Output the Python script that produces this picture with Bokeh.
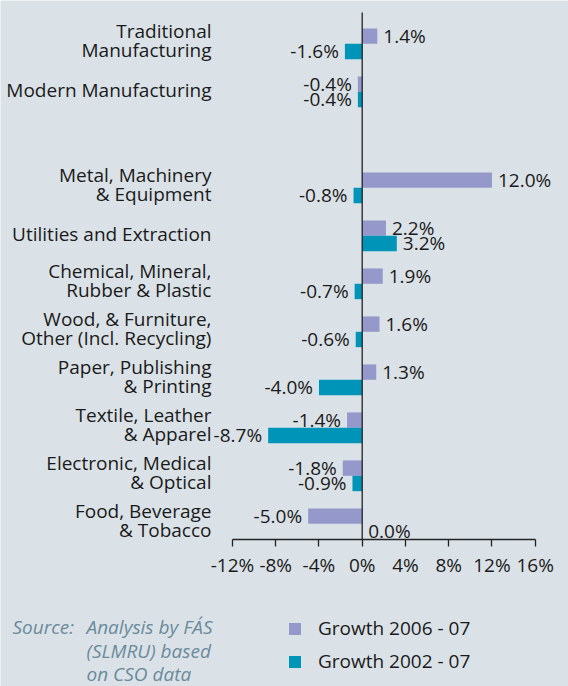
from bokeh.plotting import figure
from bokeh.models import ColumnDataSource, LabelSet, Label, Legend, LegendItem, FixedTicker, Range1d
from bokeh.core.properties import value
from bokeh.embed import file_html
from bokeh.resources import INLINE

categories = [
    "Traditional\nManufacturing",
    "Modern Manufacturing",
    "",
    "Metal, Machinery\n& Equipment",
    "Utilities and Extraction",
    "Chemical, Mineral,\nRubber & Plastic",
    "Wood, & Furniture,\nOther (Incl. Recycling)",
    "Paper, Publishing\n& Printing",
    "Textile, Leather\n& Apparel",
    "Electronic, Medical\n& Optical",
    "Food, Beverage\n& Tobacco",
]
growth_2006_07 = [1.4, -0.4, None, 12.0, 2.2, 1.9, 1.6, 1.3, -1.4, -1.8, -5.0]
growth_2002_07 = [-1.6, -0.4, None, -0.8, 3.2, -0.7, -0.6, -4.0, -8.7, -0.9, 0.0]
series_names = ["Growth 2006 - 07", "Growth 2002 - 07"]
x_ticks = [-12, -8, -4, 0, 4, 8, 12, 16]
x_tick_labels = ["-12%", "-8%", "-4%", "0%", "4%", "8%", "12%", "16%"]
source_lines = ["Source:", "Analysis by FÁS", "(SLMRU) based", "on CSO data"]

BG = "#dae2e7"
PURPLE = "#9598cb"
TEAL = "#0094b8"
TXT = "#1a1a1a"
SRC_COL = "#6a8a9c"
FONT = "Open Sans"
FS = "19px"

W, Hfig = 568, 686
X0PX, XSCALE = 361.7, 10.81   # pixel of x=0, px per %
Y0PX, YSCALE = 523.3, 48.0    # pixel of category slot 0, px per slot

def xd(px):
    return (px - X0PX) / XSCALE

def yd(py):
    return (Y0PX - py) / YSCALE

n = len(categories)
ypos = [float(n - 1 - i) for i in range(n)]
OFF = 0.16
BH = 0.32
YBOT = yd(539.3)
YTOP = yd(12)

p = figure(width=W, height=Hfig, output_backend="svg", toolbar_location=None,
           x_range=Range1d(xd(0), xd(W)), y_range=Range1d(yd(Hfig), yd(0)),
           min_border=0, min_border_left=0, min_border_right=0,
           min_border_top=0, min_border_bottom=0,
           background_fill_color=BG, border_fill_color=BG, outline_line_color=None)
p.grid.visible = False
p.yaxis.visible = False

xa = p.xaxis[0]
xa.fixed_location = YBOT
xa.bounds = (x_ticks[0], x_ticks[-1])
xa.ticker = FixedTicker(ticks=x_ticks)
xa.major_label_overrides = {t: l for t, l in zip(x_ticks, x_tick_labels)}
xa.minor_tick_line_color = None
xa.axis_line_color = "#222222"
xa.axis_line_width = 1.3
xa.major_tick_line_color = "#222222"
xa.major_tick_line_width = 1.3
xa.major_tick_in = 0
xa.major_tick_out = 7
xa.major_label_standoff = 5
xa.major_label_text_font = FONT
xa.major_label_text_font_size = FS
xa.major_label_text_color = TXT

rows1 = [(y + OFF, v) for y, v in zip(ypos, growth_2006_07) if v is not None]
rows2 = [(y - OFF, v) for y, v in zip(ypos, growth_2002_07) if v is not None]

src1 = ColumnDataSource(dict(y=[r[0] for r in rows1], v=[r[1] for r in rows1]))
src2 = ColumnDataSource(dict(y=[r[0] for r in rows2], v=[r[1] for r in rows2]))

r1 = p.hbar(y="y", right="v", left=0, height=BH, source=src1, fill_color=PURPLE, line_color=None)
r2 = p.hbar(y="y", right="v", left=0, height=BH, source=src2, fill_color=TEAL, line_color=None)

# zero line
p.segment(x0=[0], y0=[YBOT], x1=[0], y1=[YTOP], line_color="#222222", line_width=1.3)

# value labels
allrows = rows1 + rows2
pos = [r for r in allrows if r[1] >= 0]
neg = [r for r in allrows if r[1] < 0]
for rows, align, off in [(pos, "left", 6), (neg, "right", -6)]:
    s = ColumnDataSource(dict(x=[r[1] for r in rows], y=[r[0] for r in rows],
                              t=["%.1f%%" % r[1] for r in rows]))
    p.add_layout(LabelSet(x="x", y="y", text="t", source=s, x_offset=off, y_offset=0.5,
                          text_align=align, text_baseline="middle",
                          text_font=value(FONT), text_font_size=value(FS), text_color=TXT))

# category labels (one entry per text line, right aligned)
lx, ly, lt, lo = [], [], [], []
for cat, y in zip(categories, ypos):
    if not cat:
        continue
    parts = cat.split("\n")
    offs = [1.5] if len(parts) == 1 else [13, -6.5]
    for part, o in zip(parts, offs):
        lx.append(x_ticks[0]); ly.append(y); lt.append(part); lo.append(o)
csrc = ColumnDataSource(dict(x=lx, y=ly, t=lt, o=lo))
p.add_layout(LabelSet(x="x", y="y", text="t", source=csrc, x_offset=-21, y_offset="o",
                      text_align="right", text_baseline="middle",
                      text_font=value(FONT), text_font_size=value(FS), text_color=TXT))

legend = Legend(items=[LegendItem(label=series_names[0], renderers=[r1]),
                       LegendItem(label=series_names[1], renderers=[r2])],
                location=(287, Hfig - 674), orientation="vertical",
                glyph_width=15, glyph_height=15, label_height=15, spacing=7,
                label_standoff=16, padding=0, margin=0,
                border_line_color=None, background_fill_alpha=0,
                label_text_font=FONT, label_text_font_size=FS, label_text_color=TXT)
p.add_layout(legend, "center")

# source note
note_pos = [(12, 626), (86, 626), (86, 650), (86, 673)]
for t, (px, py) in zip(source_lines, note_pos):
    p.add_layout(Label(x=xd(px), y=yd(py), text=t, text_align="left", text_baseline="middle",
                       text_font=FONT, text_font_size=FS, text_font_style="italic",
                       text_color=SRC_COL))

open("out.html", "w").write(file_html(p, INLINE))
